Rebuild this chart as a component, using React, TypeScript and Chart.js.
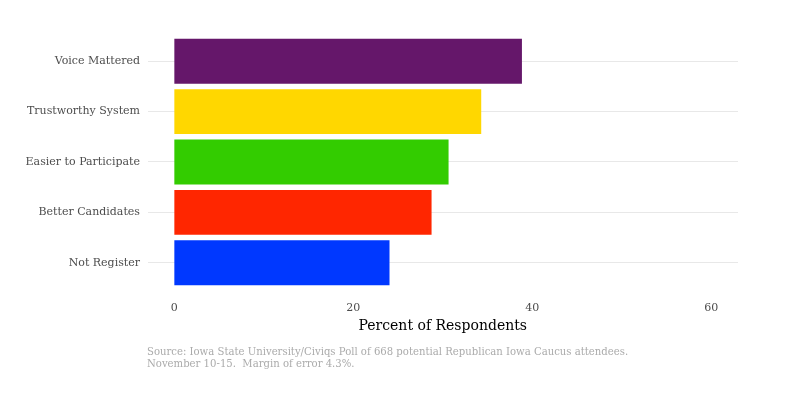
import React, { useEffect, useRef } from "react";
import { Chart, registerables } from "chart.js";

Chart.register(...registerables);

const categories = ["Voice Mattered", "Trustworthy System", "Easier to Participate", "Better Candidates", "Not Register"];
const values = [38.85, 34.3, 30.65, 28.75, 24.05];
const barColors = ["#65176A", "#FFD700", "#33CC00", "#FF2600", "#0038FF"];
const xTicks = [0, 20, 40, 60];
const captionLines = [
  "Source: Iowa State University/Civiqs Poll of 668 potential Republican Iowa Caucus attendees.",
  "November 10-15.  Margin of error 4.3%.",
];
const FONT = "'DejaVu Serif', Georgia, serif";

const captionPlugin = {
  id: "caption",
  afterDraw(chart: any) {
    const ctx = chart.ctx;
    ctx.save();
    ctx.fillStyle = "#ababab";
    ctx.font = "10.1px " + FONT;
    ctx.textBaseline = "middle";
    ctx.textAlign = "left";
    captionLines.forEach((l, i) => ctx.fillText(l, 147, 352.5 + i * 12));
    ctx.restore();
  },
};

export default function App() {
  const ref = useRef<HTMLCanvasElement>(null);
  useEffect(() => {
    if (!ref.current) return;
    const chart = new Chart(ref.current, {
      type: "bar",
      data: {
        labels: categories,
        datasets: [
          {
            data: values,
            backgroundColor: barColors,
            borderWidth: 0,
            barPercentage: 0.89,
            categoryPercentage: 1.0,
          },
        ],
      },
      options: {
        indexAxis: "y",
        animation: false,
        responsive: false,
        maintainAspectRatio: false,
        layout: { padding: { top: 36, right: 54, left: 0, bottom: 58.6 } },
        plugins: { legend: { display: false }, tooltip: { enabled: false } },
        scales: {
          x: {
            min: -3,
            max: 63,
            afterBuildTicks: (s: any) => {
              s.ticks = xTicks.map((v) => ({ value: v }));
            },
            afterFit: (s: any) => {
              s.height = 46.4;
            },
            grid: { display: false, drawTicks: false },
            border: { display: false },
            ticks: { color: "#4d4d4d", font: { family: FONT, size: 11 }, padding: 14 },
            title: {
              display: true,
              text: "Percent of Respondents",
              color: "#000",
              font: { family: FONT, size: 14 },
              padding: { top: 0, bottom: 0 },
            },
          },
          y: {
            afterFit: (s: any) => {
              s.width = 147.5;
            },
            grid: { display: true, offset: false, color: "#e8e8e8", lineWidth: 1.1, drawTicks: false },
            border: { display: false },
            ticks: { color: "#4d4d4d", font: { family: FONT, size: 11 }, padding: 7.5 },
          },
        },
      },
      plugins: [captionPlugin],
    } as any);
    return () => chart.destroy();
  }, []);
  return (
    <div style={{ position: "fixed", left: 0, top: 0, width: 792, height: 393, background: "#fff" }}>
      <canvas ref={ref} width={792} height={393} style={{ width: 792, height: 393 }} />
    </div>
  );
}
